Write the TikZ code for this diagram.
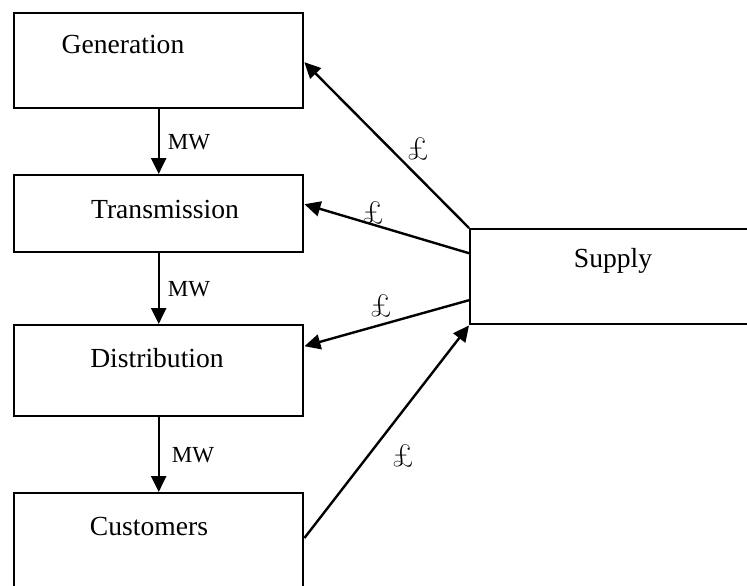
\documentclass[tikz,border=0pt]{standalone}
\usepackage{fontspec}
\setmainfont{Liberation Serif}
\newfontfamily\poundfont{Latin Modern Roman}
\usetikzlibrary{arrows.meta,calc}
\begin{document}
\begin{tikzpicture}[x=0.5pt,y=-0.5pt,
  box/.style={draw,line width=1.2pt,rectangle,anchor=north west,inner sep=0pt},
  flow/.style={line width=1.2pt,-{Triangle[length=8pt,width=7.5pt]}},
  title/.style={font=\fontsize{13.8}{16}\selectfont,inner sep=0pt},
  mw/.style={font=\fontsize{11.5}{13}\selectfont,inner sep=0pt},
  money/.style={font=\fontsize{16}{18}\poundfont,inner sep=0pt}]
\useasboundingbox (0,0) rectangle (747,585);
\clip (0,0) rectangle (747,585);
% the four stages of the chain
\node[box,minimum width=144.5pt,minimum height=47.5pt] (gen) at (13,12) {};
\node[box,minimum width=144.5pt,minimum height=38.5pt] (trans) at (13,174) {};
\node[box,minimum width=144.5pt,minimum height=45.5pt] (dist) at (13,324) {};
\node[box,minimum width=144.5pt,minimum height=60pt] (cust) at (13,492) {};
% supply business, running off to the right
\node[box,minimum width=150pt,minimum height=47.5pt] (supply) at (469,228) {};
% box titles
\node[title] (tgen) at (123,44) {Generation};
\node[title] (ttrans) at (165,209) {Transmission};
\node[title] (tdist) at (157,358) {Distribution};
\node[title] (tcust) at (149,526) {Customers};
\node[title] (tsupply) at (613,261) {Supply};
% power flow down the chain
\draw[flow] (gen.south) -- (trans.north) node[mw,midway,anchor=west,xshift=4pt] (mw1) {MW};
\draw[flow] (trans.south) -- (dist.north) node[mw,midway,anchor=west,xshift=4pt] (mw2) {MW};
\draw[flow] (dist.south) -- (cust.north) node[mw,midway,anchor=west,xshift=6pt] (mw3) {MW};
% money flows to and from supply
\draw[flow] (supply.north west) -- ($(gen.east)+(0,1.5)$);
\draw[flow] ($(supply.west)+(0,-23.5)$) -- ($(trans.east)+(0,-9.5)$);
\draw[flow] ($(supply.west)+(0,23.5)$) -- ($(dist.east)+(0,-24.5)$);
\draw[flow] ($(cust.north east)+(0,46)$) -- (supply.south west);
\node[money] (p1) at (418,149) {£};
\node[money] (p2) at (373,213) {£};
\node[money] (p3) at (381,306) {£};
\node[money] (p4) at (403,456) {£};
\end{tikzpicture}
\end{document}
